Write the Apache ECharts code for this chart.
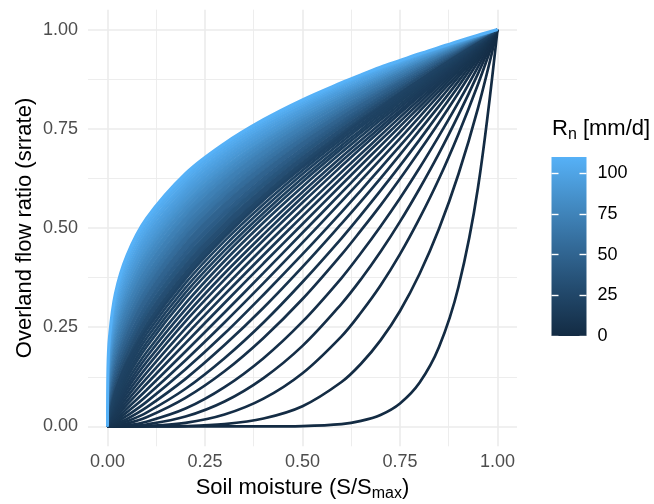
<!DOCTYPE html>
<html>
<head>
<meta charset="utf-8">
<title>Overland flow ratio</title>
<script src="https://cdn.jsdelivr.net/npm/echarts@6.0.0/dist/echarts.min.js"></script>
<style>
html,body{margin:0;padding:0;background:#ffffff;}
#chart{width:654px;height:504px;}
</style>
</head>
<body>
<div id="chart"></div>
<script>
// Soil moisture (S/Smax) positions at which each curve was read
const xValues = [0, 0.001, 0.005, 0.02, 0.05, 0.1, 0.2, 0.3, 0.4, 0.5, 0.6, 0.65, 0.7, 0.75, 0.8, 0.85, 0.9, 0.95, 1];

// Overland flow ratio (srrate) read for each net rainfall Rn [mm/d]
const rn0  = [0,0,0,0,0,0,0,0,0,0.001,0.006,0.014,0.029,0.058,0.110,0.200,0.352,0.602,1];
const rn1  = [0,0,0,0,0,0,0.001,0.006,0.020,0.051,0.112,0.158,0.217,0.291,0.384,0.498,0.636,0.802,1];
const rn2  = [0,0,0,0,0,0.001,0.009,0.030,0.070,0.134,0.227,0.287,0.355,0.434,0.524,0.624,0.737,0.862,1];
const rn3  = [0,0,0,0,0.001,0.005,0.025,0.063,0.122,0.203,0.309,0.371,0.440,0.516,0.599,0.688,0.785,0.889,1];
const rn4  = [0,0,0,0.001,0.003,0.012,0.045,0.099,0.172,0.264,0.374,0.437,0.504,0.575,0.651,0.732,0.817,0.906,1];
const rn5  = [0,0,0,0.002,0.007,0.023,0.072,0.139,0.223,0.321,0.433,0.494,0.557,0.624,0.694,0.766,0.841,0.919,1];
const rn6  = [0,0,0,0.003,0.013,0.035,0.095,0.172,0.262,0.364,0.474,0.533,0.594,0.657,0.722,0.789,0.857,0.928,1];
const rn7  = [0,0,0.001,0.006,0.019,0.048,0.120,0.205,0.299,0.402,0.511,0.567,0.625,0.685,0.746,0.807,0.870,0.935,1];
const rn8  = [0,0,0.002,0.009,0.027,0.062,0.144,0.234,0.332,0.434,0.540,0.595,0.651,0.707,0.764,0.822,0.881,0.940,1];
const rn9  = [0,0,0.003,0.013,0.036,0.077,0.167,0.262,0.361,0.463,0.567,0.620,0.673,0.726,0.780,0.835,0.889,0.945,1];
const rn10 = [0,0.001,0.004,0.017,0.045,0.092,0.189,0.287,0.387,0.488,0.589,0.640,0.691,0.742,0.794,0.845,0.897,0.948,1];
const rn11 = [0,0.001,0.006,0.022,0.055,0.107,0.210,0.311,0.411,0.510,0.609,0.658,0.707,0.756,0.805,0.854,0.903,0.951,1];
const rn12 = [0,0.002,0.008,0.028,0.064,0.121,0.229,0.332,0.432,0.530,0.626,0.674,0.721,0.768,0.815,0.862,0.908,0.954,1];
const rn13 = [0,0.002,0.010,0.033,0.074,0.135,0.247,0.351,0.451,0.547,0.641,0.687,0.733,0.779,0.824,0.868,0.912,0.956,1];
const rn14 = [0,0.003,0.013,0.040,0.084,0.149,0.265,0.370,0.469,0.564,0.656,0.701,0.745,0.789,0.832,0.874,0.917,0.958,1];
const rn15 = [0,0.004,0.015,0.045,0.094,0.162,0.280,0.386,0.484,0.578,0.668,0.711,0.754,0.796,0.838,0.879,0.920,0.960,1];
const rn16 = [0,0.005,0.018,0.052,0.103,0.175,0.295,0.402,0.499,0.591,0.679,0.721,0.763,0.804,0.844,0.884,0.923,0.962,1];
const rn17 = [0,0.007,0.021,0.058,0.113,0.187,0.310,0.417,0.514,0.604,0.690,0.731,0.772,0.811,0.850,0.889,0.926,0.963,1];
const rn18 = [0,0.008,0.025,0.065,0.123,0.200,0.325,0.431,0.527,0.616,0.700,0.740,0.779,0.818,0.856,0.893,0.929,0.965,1];
const rn19 = [0,0.009,0.028,0.071,0.132,0.211,0.337,0.443,0.538,0.626,0.708,0.747,0.786,0.823,0.860,0.896,0.931,0.966,1];
const rn20 = [0,0.011,0.031,0.077,0.141,0.222,0.349,0.455,0.549,0.636,0.716,0.755,0.792,0.828,0.864,0.899,0.933,0.967,1];
const rn21 = [0,0.013,0.035,0.084,0.150,0.233,0.361,0.467,0.560,0.645,0.724,0.761,0.798,0.834,0.868,0.902,0.935,0.968,1];
const rn22 = [0,0.014,0.039,0.091,0.159,0.243,0.372,0.477,0.570,0.653,0.731,0.768,0.803,0.838,0.872,0.905,0.937,0.969,1];
const rn29 = [0,0.018,0.046,0.103,0.175,0.262,0.393,0.497,0.587,0.669,0.743,0.779,0.813,0.846,0.878,0.910,0.941,0.971,1];
const rn35 = [0,0.022,0.054,0.115,0.191,0.281,0.411,0.515,0.603,0.682,0.754,0.788,0.821,0.853,0.884,0.914,0.943,0.972,1];
const rn41 = [0,0.026,0.061,0.127,0.206,0.297,0.428,0.530,0.617,0.694,0.764,0.797,0.829,0.859,0.889,0.918,0.946,0.973,1];
const rn46 = [0,0.031,0.069,0.139,0.220,0.313,0.444,0.544,0.630,0.705,0.773,0.804,0.835,0.865,0.893,0.921,0.948,0.974,1];
const rn53 = [0,0.037,0.080,0.155,0.240,0.334,0.465,0.564,0.646,0.719,0.784,0.815,0.844,0.872,0.899,0.926,0.951,0.976,1];
const rn60 = [0,0.044,0.091,0.170,0.258,0.353,0.483,0.580,0.661,0.731,0.794,0.823,0.851,0.878,0.904,0.929,0.953,0.977,1];
const rn65 = [0,0.051,0.101,0.184,0.274,0.370,0.499,0.594,0.673,0.741,0.802,0.830,0.857,0.883,0.908,0.932,0.956,0.978,1];
const rn70 = [0,0.057,0.111,0.198,0.289,0.385,0.513,0.607,0.684,0.750,0.809,0.836,0.863,0.888,0.912,0.935,0.957,0.979,1];
const rn75 = [0,0.065,0.124,0.214,0.307,0.403,0.530,0.622,0.697,0.761,0.817,0.844,0.869,0.893,0.916,0.938,0.959,0.980,1];
const rn80 = [0,0.073,0.135,0.228,0.322,0.419,0.544,0.634,0.707,0.770,0.824,0.850,0.874,0.897,0.919,0.940,0.961,0.981,1];
const rn84 = [0,0.081,0.145,0.241,0.336,0.433,0.557,0.645,0.717,0.777,0.830,0.855,0.878,0.901,0.922,0.943,0.962,0.981,1];
const rn88 = [0,0.088,0.155,0.253,0.349,0.445,0.568,0.655,0.724,0.784,0.836,0.859,0.882,0.904,0.925,0.944,0.964,0.982,1];
const rn92 = [0,0.096,0.166,0.265,0.362,0.458,0.580,0.665,0.733,0.791,0.841,0.864,0.886,0.907,0.927,0.946,0.965,0.983,1];
const rn95 = [0,0.104,0.176,0.277,0.374,0.470,0.590,0.674,0.740,0.797,0.846,0.868,0.889,0.910,0.929,0.948,0.966,0.983,1];
const rn98 = [0,0.112,0.186,0.289,0.386,0.482,0.600,0.682,0.748,0.803,0.850,0.872,0.893,0.913,0.932,0.950,0.967,0.984,1];
const rn101 = [0,0.119,0.195,0.299,0.397,0.491,0.609,0.690,0.754,0.807,0.854,0.876,0.896,0.915,0.934,0.951,0.968,0.984,1];
const rn104 = [0,0.126,0.204,0.310,0.407,0.501,0.617,0.697,0.760,0.812,0.858,0.879,0.899,0.917,0.935,0.952,0.969,0.985,1];
const rn106 = [0,0.132,0.212,0.318,0.416,0.510,0.624,0.703,0.765,0.816,0.861,0.882,0.901,0.919,0.937,0.954,0.970,0.985,1];
const rn108 = [0,0.139,0.220,0.327,0.424,0.517,0.631,0.709,0.769,0.820,0.864,0.884,0.903,0.921,0.938,0.955,0.970,0.985,1];
const rn110 = [0,0.144,0.226,0.334,0.431,0.524,0.637,0.713,0.773,0.823,0.866,0.886,0.905,0.922,0.939,0.955,0.971,0.986,1];

// separately visible dark curves
const lineCurves = [[0,rn0],[1,rn1],[2,rn2],[3,rn3],[4,rn4],[5,rn5],[6,rn6],[7,rn7],[8,rn8],[9,rn9],[10,rn10],
  [11,rn11],[12,rn12],[13,rn13],[14,rn14],[15,rn15],[16,rn16],[17,rn17],[18,rn18],[19,rn19],[20,rn20],[21,rn21]];
// densely packed curves forming the continuous band
const bandCurves = [[22,rn22],[29,rn29],[35,rn35],[41,rn41],[46,rn46],[53,rn53],[60,rn60],[65,rn65],[70,rn70],
  [75,rn75],[80,rn80],[84,rn84],[88,rn88],[92,rn92],[95,rn95],[98,rn98],[101,rn101],[104,rn104],[106,rn106],[108,rn108],[110,rn110]];

const axisTicks = [0, 0.25, 0.5, 0.75, 1];
const axisMinorTicks = [0.125, 0.375, 0.625, 0.875];
const legendTicks = [0, 25, 50, 75, 100];
const rnMax = 110;

const FONT = '"Liberation Sans", Arial, Helvetica, sans-serif';
const gradientStops = ['#132B43', '#22496C', '#336A98', '#448DC6', '#56B1F7'];
const col = rn => echarts.color.lerp(rn / rnMax, gradientStops);
const SMOOTH = 0.35;

const chart = echarts.init(document.getElementById('chart'), null, {renderer: 'canvas'});

const series = [];
lineCurves.forEach(([rn, ys]) => {
  series.push({
    type: 'line', xAxisIndex: 0, yAxisIndex: 0,
    data: xValues.map((x, i) => [x, ys[i]]),
    smooth: SMOOTH, showSymbol: false, symbol: 'none',
    silent: true, animation: false, z: 2,
    lineStyle: {color: col(rn), width: 2.7}
  });
});
bandCurves.forEach(([rn, ys], k) => {
  const prev = k > 0 ? bandCurves[k - 1] : null;
  const s = {
    type: 'line', xAxisIndex: 0, yAxisIndex: 0,
    stack: 'band', stackStrategy: 'all',
    encode: {x: 1, y: 0},
    data: xValues.map((x, i) => [prev ? ys[i] - prev[1][i] : ys[i], x]),
    smooth: SMOOTH, showSymbol: false, symbol: 'none',
    silent: true, animation: false, z: 3,
    lineStyle: {color: col(rn), width: k === 0 ? 2.7 : (k === bandCurves.length - 1 ? 3 : 1.2)}
  };
  if (prev) s.areaStyle = {color: col((rn + prev[0]) / 2), opacity: 1};
  series.push(s);
});
// colour bar
series.push({
  type: 'bar', xAxisIndex: 2, yAxisIndex: 2, data: [rnMax], barWidth: '100%',
  silent: true, animation: false, z: 1,
  itemStyle: {color: new echarts.graphic.LinearGradient(0, 1, 0, 0,
    gradientStops.map((c, i) => ({offset: i / (gradientStops.length - 1), color: c})))}
});

const fmt = v => Number(v).toFixed(2);
const gridColor = '#EBEBEB';
const subRich = {
  a: {fontSize: 22, lineHeight: 28, verticalAlign: 'top', fontFamily: FONT, fill: '#000'},
  b: {fontSize: 16, lineHeight: 28, verticalAlign: 'top', fontFamily: FONT, fill: '#000', padding: [9, 0, 0, 0]}
};

const option = {
  backgroundColor: '#ffffff',
  animation: false,
  textStyle: {fontFamily: FONT},
  grid: [
    {left: 88, right: 137, top: 9.7, bottom: 57.7, outerBoundsMode: 'none', containLabel: false},
    {left: 551.5, top: 157, width: 35, height: 179, outerBoundsMode: 'none', containLabel: false}
  ],
  xAxis: [
    {gridIndex: 0, type: 'value', min: -0.05, max: 1.05,
     axisLine: {show: false}, axisTick: {show: false, customValues: axisTicks},
     axisLabel: {customValues: axisTicks, formatter: fmt, color: '#4D4D4D', fontSize: 18, fontFamily: FONT, margin: 7},
     splitLine: {show: true, lineStyle: {color: gridColor, width: 1.6}}},
    {gridIndex: 0, type: 'value', min: -0.05, max: 1.05, position: 'bottom',
     axisLine: {show: false}, axisTick: {show: false, customValues: axisMinorTicks},
     axisLabel: {show: false, customValues: axisMinorTicks},
     splitLine: {show: true, lineStyle: {color: gridColor, width: 0.9}}},
    {gridIndex: 1, type: 'category', data: ['Rn'], show: false}
  ],
  yAxis: [
    {gridIndex: 0, type: 'value', min: -0.05, max: 1.05,
     axisLine: {show: false}, axisTick: {show: false, customValues: axisTicks},
     axisLabel: {customValues: axisTicks, formatter: fmt, color: '#4D4D4D', fontSize: 18, fontFamily: FONT, margin: 10},
     splitLine: {show: true, lineStyle: {color: gridColor, width: 1.6}}},
    {gridIndex: 0, type: 'value', min: -0.05, max: 1.05, position: 'left',
     axisLine: {show: false}, axisTick: {show: false, customValues: axisMinorTicks},
     axisLabel: {show: false, customValues: axisMinorTicks},
     splitLine: {show: true, lineStyle: {color: gridColor, width: 0.9}}},
    {gridIndex: 1, type: 'value', min: 0, max: rnMax, position: 'right', z: 10,
     axisLine: {show: false},
     axisTick: {show: true, inside: true, length: 7, customValues: legendTicks, lineStyle: {color: '#ffffff', width: 1.4}},
     axisLabel: {customValues: legendTicks, color: '#000000', fontSize: 18, fontFamily: FONT, margin: 11},
     splitLine: {show: false}},
    {gridIndex: 1, type: 'value', min: 0, max: rnMax, position: 'left', z: 10,
     axisLine: {show: false},
     axisTick: {show: true, inside: true, length: 7, customValues: legendTicks, lineStyle: {color: '#ffffff', width: 1.4}},
     axisLabel: {show: false},
     splitLine: {show: false}}
  ],
  series: series,
  graphic: [
    {type: 'text', x: 302.5, y: 477, silent: true,
     style: {text: '{a|Soil moisture (S/S}{b|max}{a|)}', align: 'center', verticalAlign: 'top', fill: '#000', rich: subRich}},
    {type: 'text', x: 25, y: 228, rotation: Math.PI / 2, silent: true,
     style: {text: 'Overland flow ratio (srrate)', fontSize: 22, fontFamily: FONT, fill: '#000', align: 'center', verticalAlign: 'middle'}},
    {type: 'text', x: 552, y: 118, silent: true,
     style: {text: '{a|R}{b|n}{a| [mm/d]}', align: 'left', verticalAlign: 'top', fill: '#000', rich: subRich}}
  ]
};
chart.setOption(option);
</script>
</body>
</html>
